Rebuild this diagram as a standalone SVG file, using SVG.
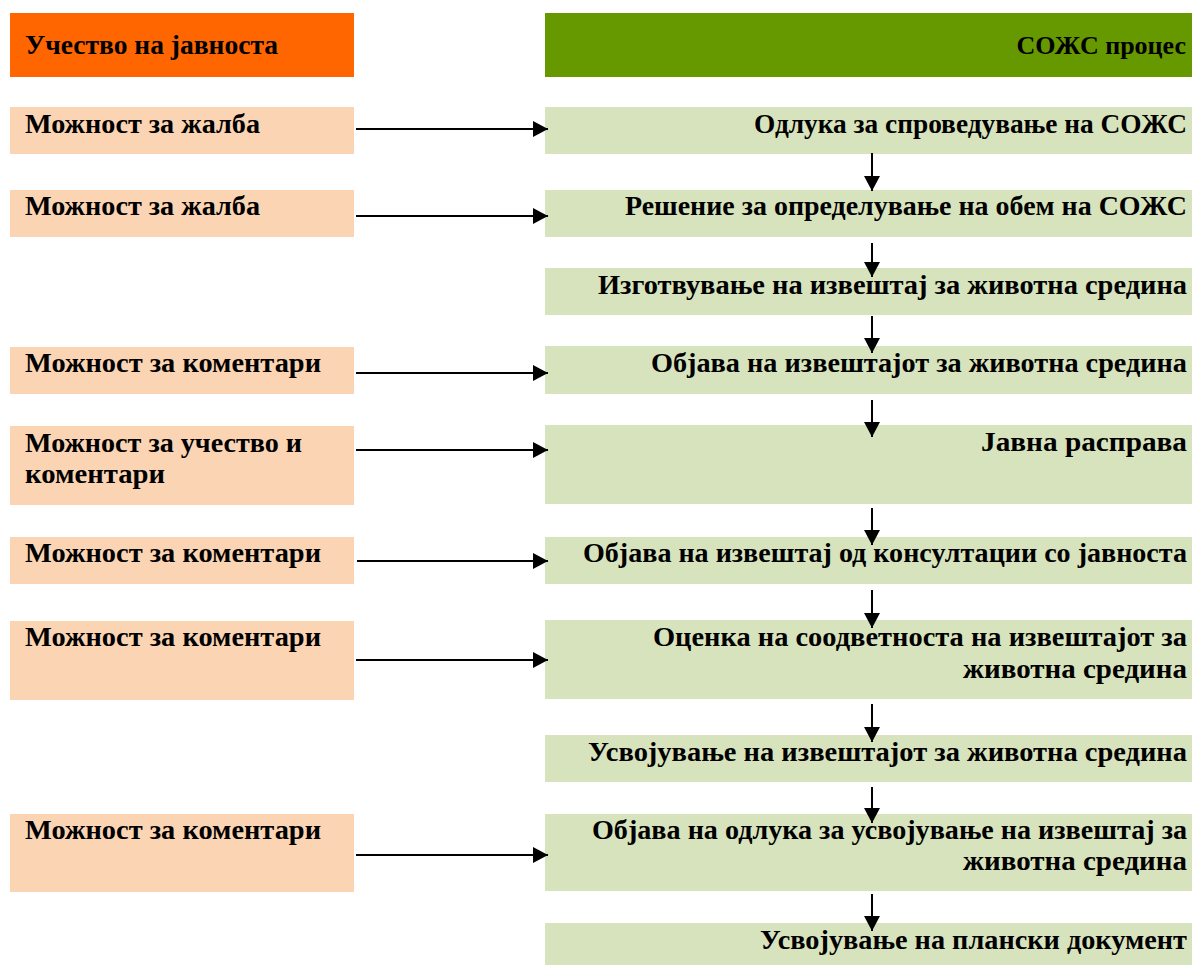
<svg xmlns="http://www.w3.org/2000/svg" width="1192" height="965" viewBox="0 0 1192 965">
<style>
.t{font-family:"Liberation Serif","Times New Roman",serif;font-weight:bold;font-size:27px;fill:#000}
.r{text-anchor:end}
.pe{fill:#FBD4B4}
.lg{fill:#D7E3BC}
.c{stroke:#000;stroke-width:2;fill:none;marker-end:url(#ah)}
</style>
<defs>
<marker id="ah" viewBox="0 0 15 16" refX="15" refY="8" markerWidth="15" markerHeight="16" markerUnits="userSpaceOnUse" orient="auto">
<path d="M0,0 L15,8 L0,16 z" fill="#000"/>
</marker>
</defs>
<rect width="1192" height="965" fill="#fff"/>
<g id="hdr-left"><rect x="10" y="13" width="344" height="64" fill="#FF6600"/><text class="t" x="25" y="54" textLength="253" lengthAdjust="spacingAndGlyphs">Учество на јавноста</text></g>
<g id="hdr-right"><rect x="545" y="13" width="647" height="64" fill="#669900"/><text class="t r" x="1186" y="54" style="font-size:26px">СОЖС процес</text></g>

<g id="l1"><rect class="pe" x="10" y="107" width="344" height="47"/><text class="t" x="25" y="133" textLength="235" lengthAdjust="spacingAndGlyphs">Можност за жалба</text></g>
<g id="l2"><rect class="pe" x="10" y="190" width="344" height="47"/><text class="t" x="25" y="215" textLength="235" lengthAdjust="spacingAndGlyphs">Можност за жалба</text></g>
<g id="l3"><rect class="pe" x="10" y="347" width="344" height="47"/><text class="t" x="25" y="372" textLength="296" lengthAdjust="spacingAndGlyphs">Можност за коментари</text></g>
<g id="l4"><rect class="pe" x="10" y="426" width="344" height="79"/><text class="t" x="25" y="452" textLength="277" lengthAdjust="spacingAndGlyphs">Можност за учество и</text><text class="t" x="25" y="483" textLength="140" lengthAdjust="spacingAndGlyphs">коментари</text></g>
<g id="l5"><rect class="pe" x="10" y="537" width="344" height="47"/><text class="t" x="25" y="562" textLength="296" lengthAdjust="spacingAndGlyphs">Можност за коментари</text></g>
<g id="l6"><rect class="pe" x="10" y="621" width="344" height="79"/><text class="t" x="25" y="646" textLength="296" lengthAdjust="spacingAndGlyphs">Можност за коментари</text></g>
<g id="l7"><rect class="pe" x="10" y="814" width="344" height="78"/><text class="t" x="25" y="839" textLength="296" lengthAdjust="spacingAndGlyphs">Можност за коментари</text></g>

<g id="r1"><rect class="lg" x="545" y="107" width="647" height="47"/><text class="t r" x="1187" y="133" textLength="433" lengthAdjust="spacingAndGlyphs">Одлука за спроведување на СОЖС</text></g>
<g id="r2"><rect class="lg" x="545" y="190" width="647" height="47"/><text class="t r" x="1187" y="215" textLength="562" lengthAdjust="spacingAndGlyphs">Решение за определување на обем на СОЖС</text></g>
<g id="r3"><rect class="lg" x="545" y="268" width="647" height="47"/><text class="t r" x="1187" y="294" textLength="589" lengthAdjust="spacingAndGlyphs">Изготвување на извештај за животна средина</text></g>
<g id="r4"><rect class="lg" x="545" y="346" width="647" height="48"/><text class="t r" x="1187" y="372" textLength="536" lengthAdjust="spacingAndGlyphs">Објава на извештајот за животна средина</text></g>
<g id="r5"><rect class="lg" x="545" y="425" width="647" height="79"/><text class="t r" x="1187" y="451" textLength="206" lengthAdjust="spacingAndGlyphs">Јавна расправа</text></g>
<g id="r6"><rect class="lg" x="545" y="537" width="647" height="47"/><text class="t r" x="1187" y="562" textLength="604" lengthAdjust="spacingAndGlyphs">Објава на извештај од консултации со јавноста</text></g>
<g id="r7"><rect class="lg" x="545" y="620" width="647" height="79"/><text class="t r" x="1187" y="646" textLength="534" lengthAdjust="spacingAndGlyphs">Оценка на соодветноста на извештајот за</text><text class="t r" x="1187" y="678" textLength="224" lengthAdjust="spacingAndGlyphs">животна средина</text></g>
<g id="r8"><rect class="lg" x="545" y="735" width="647" height="47"/><text class="t r" x="1187" y="761" textLength="599" lengthAdjust="spacingAndGlyphs">Усвојување на извештајот за животна средина</text></g>
<g id="r9"><rect class="lg" x="545" y="814" width="647" height="77"/><text class="t r" x="1187" y="839" textLength="595" lengthAdjust="spacingAndGlyphs">Објава на одлука за усвојување на извештај за</text><text class="t r" x="1187" y="870" textLength="224" lengthAdjust="spacingAndGlyphs">животна средина</text></g>
<g id="r10"><rect class="lg" x="545" y="923" width="647" height="42"/><text class="t r" x="1187" y="949" textLength="427" lengthAdjust="spacingAndGlyphs">Усвојување на плански документ</text></g>

<g id="connectors">
<line class="c" x1="356" y1="129" x2="548" y2="129"/>
<line class="c" x1="356" y1="216" x2="548" y2="216"/>
<line class="c" x1="356" y1="373" x2="548" y2="373"/>
<line class="c" x1="356" y1="450" x2="548" y2="450"/>
<line class="c" x1="357" y1="561" x2="548" y2="561"/>
<line class="c" x1="356" y1="660" x2="548" y2="660"/>
<line class="c" x1="356" y1="855" x2="548" y2="855"/>
<line class="c" x1="872" y1="153" x2="872" y2="191"/>
<line class="c" x1="872" y1="243" x2="872" y2="277"/>
<line class="c" x1="872" y1="316" x2="872" y2="353"/>
<line class="c" x1="872" y1="400" x2="872" y2="437"/>
<line class="c" x1="872" y1="508" x2="872" y2="545"/>
<line class="c" x1="872" y1="590" x2="872" y2="628"/>
<line class="c" x1="872" y1="704" x2="872" y2="742"/>
<line class="c" x1="872" y1="787" x2="872" y2="823"/>
<line class="c" x1="872" y1="894" x2="872" y2="931"/>
</g>
</svg>
